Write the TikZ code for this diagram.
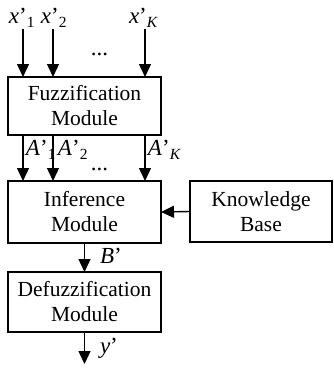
\documentclass[tikz,border=0pt]{standalone}
\usepackage{fontspec}
\setmainfont{Liberation Serif}
\usetikzlibrary{arrows.meta}
\newcommand{\sbs}[1]{\raisebox{-4pt}{\fontsize{15.5}{15.5}\selectfont #1}}
\begin{document}
\begin{tikzpicture}[x=1pt,y=-1pt,
  every node/.style={inner sep=0pt,outer sep=0pt},
  blk/.style={draw,line width=1.4pt,align=center,font=\fontsize{21.5}{25}\selectfont},
  conn/.style={line width=1.4pt,-{Triangle[length=13pt,width=12pt]}},
  lbl/.style={anchor=base west,font=\fontsize{23}{23}\selectfont}]
\useasboundingbox (0,0) rectangle (334,368);
\node[blk,minimum width=153pt,minimum height=58pt] (fuzz) at (84.5,106) {Fuzzification\\Module};
\node[blk,minimum width=153pt,minimum height=62pt] (inf) at (84.5,212) {Inference\\Module};
\node[blk,minimum width=142pt,minimum height=61pt] (kb) at (261,211.5) {Knowledge\\Base};
\node[blk,minimum width=153pt,minimum height=60pt] (defuzz) at (84.5,302) {Defuzzification\\Module};
\coordinate (in1) at (23,29);
\coordinate (in2) at (53,29);
\coordinate (inK) at (145,29);
\coordinate (out) at (84.5,364);
\draw[conn] (in1) -- (in1 |- fuzz.north);
\draw[conn] (in2) -- (in2 |- fuzz.north);
\draw[conn] (inK) -- (inK |- fuzz.north);
\draw[conn] (fuzz.south -| in1) -- (inf.north -| in1);
\draw[conn] (fuzz.south -| in2) -- (inf.north -| in2);
\draw[conn] (fuzz.south -| inK) -- (inf.north -| inK);
\draw[conn] (kb.west) -- (inf.east);
\draw[conn] (inf.south) -- (defuzz.north);
\draw[conn] (defuzz.south) -- (out);
\node[lbl] (lx1) at (9,23) {\textit{x}’\sbs{1}};
\node[lbl] (lx2) at (41,23) {\textit{x}’\sbs{2}};
\node[lbl] (lxK) at (129,23) {\textit{x}’\sbs{\textit{K}}};
\node[lbl] (ld1) at (91,55) {...};
\node[lbl] (la1) at (26,155) {\textit{A}’\sbs{1}};
\node[lbl] (la2) at (58,155) {\textit{A}’\sbs{2}};
\node[lbl] (ld2) at (91,170) {...};
\node[lbl] (laK) at (148,155) {\textit{A}’\sbs{\textit{K}}};
\node[lbl] (lb) at (100,263) {\textit{B}’};
\node[lbl] (ly) at (100,353) {\textit{y}’};
\end{tikzpicture}
\end{document}
